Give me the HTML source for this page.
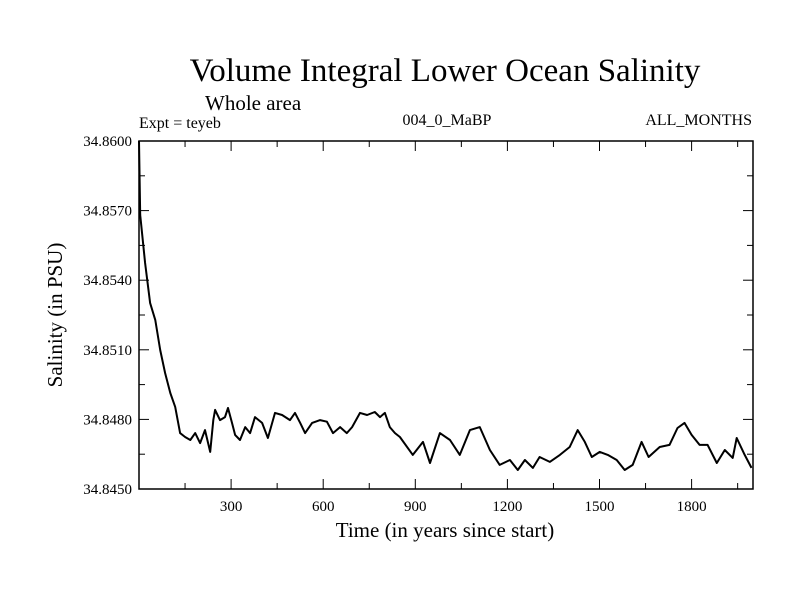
<!DOCTYPE html>
<html><head><meta charset="utf-8"><style>
body{margin:0;background:#fff;}
svg{display:block;font-family:"Liberation Serif",serif;}
</style></head><body>
<svg id="chart" width="800" height="600" viewBox="0 0 800 600">
<rect width="800" height="600" fill="#fff"/>
<text x="445" y="81" font-size="33" text-anchor="middle">Volume Integral Lower Ocean Salinity</text>
<text x="205" y="110" font-size="21">Whole area</text>
<text x="139" y="128" font-size="16">Expt = teyeb</text>
<text x="447" y="125" font-size="16" text-anchor="middle">004_0_MaBP</text>
<text x="752" y="125" font-size="16" text-anchor="end">ALL_MONTHS</text>
<text x="445" y="537" font-size="21" text-anchor="middle">Time (in years since start)</text>
<text transform="translate(62,315) rotate(-90)" font-size="21" text-anchor="middle">Salinity (in PSU)</text>
<g id="axes"></g>
<path id="series" fill="none" stroke="#000" stroke-width="2" stroke-linejoin="round"/>
<rect x="139" y="141" width="614" height="348" fill="none" stroke="#000" stroke-width="1.5"/>
</svg>
<script>
const years=[0,4,20,36,53,69,85,102,118,134,150,167,183,199,215,232,242,248,264,280,290,303,313,329,346,362,378,401,420,443,466,492,508,525,541,564,590,612,632,655,677,694,720,743,768,785,801,817,834,850,892,925,948,980,1013,1045,1078,1110,1143,1175,1208,1234,1257,1283,1305,1338,1371,1403,1429,1452,1475,1501,1527,1556,1582,1608,1637,1660,1696,1728,1754,1777,1800,1826,1852,1882,1908,1934,1947,1973,1995];
const salinity=[34.86000,34.85681,34.85474,34.85302,34.85228,34.85099,34.85000,34.84914,34.84854,34.84741,34.84724,34.84711,34.84741,34.84698,34.84754,34.84660,34.84797,34.84841,34.84797,34.84810,34.84849,34.84785,34.84733,34.84711,34.84767,34.84741,34.84810,34.84785,34.84720,34.84828,34.84819,34.84797,34.84828,34.84785,34.84741,34.84785,34.84797,34.84790,34.84741,34.84767,34.84741,34.84767,34.84828,34.84819,34.84832,34.84810,34.84828,34.84767,34.84741,34.84724,34.84647,34.84703,34.84612,34.84741,34.84711,34.84647,34.84754,34.84767,34.84668,34.84604,34.84625,34.84582,34.84625,34.84591,34.84638,34.84617,34.84647,34.84681,34.84754,34.84703,34.84638,34.84660,34.84647,34.84625,34.84582,34.84604,34.84703,34.84638,34.84681,34.84690,34.84763,34.84785,34.84733,34.84690,34.84690,34.84612,34.84668,34.84634,34.84720,34.84647,34.84591];
const xTicks=[300,600,900,1200,1500,1800];
const yTicks=[34.8450,34.8480,34.8510,34.8540,34.8570,34.8600];
const X0=139,X1=753,Y0=489,Y1=141,XMIN=0,XMAX=2000,YMIN=34.845,YMAX=34.860;
const sx=t=>X0+(t-XMIN)/(XMAX-XMIN)*(X1-X0);
const sy=v=>Y0-(v-YMIN)/(YMAX-YMIN)*(Y0-Y1);
const ns="http://www.w3.org/2000/svg";
const axes=document.getElementById('axes');
function line(x1,y1,x2,y2){const l=document.createElementNS(ns,'line');l.setAttribute('x1',x1);l.setAttribute('y1',y1);l.setAttribute('x2',x2);l.setAttribute('y2',y2);l.setAttribute('stroke','#000');l.setAttribute('stroke-width','1');


axes.appendChild(l);}
for(let t=150;t<XMAX;t+=150){const x=sx(t);const L=(t%300===0)?10:6;line(x,Y0,x,Y0-L);line(x,Y1,x,Y1+L);}
for(let v=0;v<=10;v++){const y=sy(YMIN+v*0.0015);const L=(v%2===0)?10:6;line(X0,y,X0+L,y);line(X1,y,X1-L,y);}
xTicks.forEach(t=>{const e=document.createElementNS(ns,'text');e.setAttribute('x',sx(t));e.setAttribute('y',Y0+22);e.setAttribute('font-size','15');e.setAttribute('text-anchor','middle');e.textContent=t;


axes.appendChild(e);});
yTicks.forEach(v=>{const e=document.createElementNS(ns,'text');e.setAttribute('x',X0-7);e.setAttribute('y',sy(v)+5);e.setAttribute('font-size','15');e.setAttribute('text-anchor','end');e.textContent=v.toFixed(4);


axes.appendChild(e);});
document.getElementById('series').setAttribute('d',years.map((t,i)=>(i?'L':'M')+sx(t).toFixed(1)+','+sy(salinity[i]).toFixed(1)).join(''));
</script>
</body></html>
